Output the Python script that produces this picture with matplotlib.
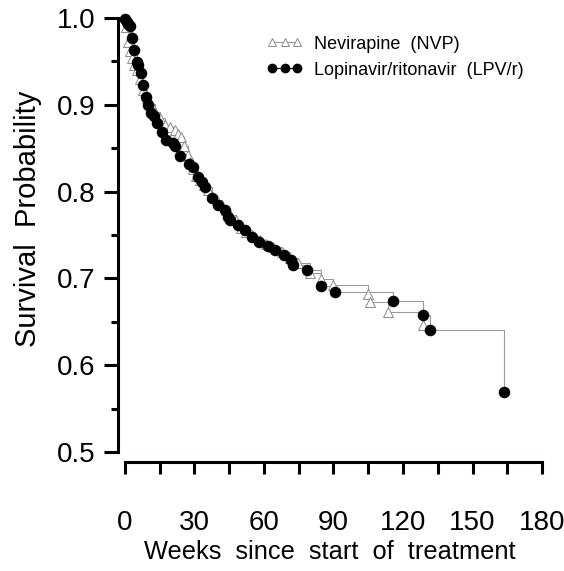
import numpy as np
import matplotlib
matplotlib.use("Agg")
import matplotlib.pyplot as plt
from matplotlib.ticker import MultipleLocator, FormatStrFormatter

plt.rcParams['font.family'] = ['Liberation Sans', 'DejaVu Sans']

# Kaplan-Meier steps (weeks, survival)
nvp_weeks = [0.4, 1.3, 2.2, 3.0, 3.9, 5.2, 6.5, 7.8, 9.5, 11.2, 13.0, 15.1, 17.3,
             19.4, 21.6, 22.9, 24.2, 25.5, 27.2, 28.1, 29.3, 30.6, 32.4, 34.1,
             35.8, 37.5, 39.7, 41.9, 43.6, 45.3, 47.9, 50.1, 52.2, 55.2, 58.3,
             60.9, 63.9, 67.8, 71.2, 74.6, 79.8, 84.6, 89.7, 104.9, 105.7,
             113.5, 128.6]
nvp_surv = [0.990, 0.972, 0.962, 0.954, 0.946, 0.940, 0.930, 0.917, 0.908, 0.901,
            0.892, 0.885, 0.877, 0.874, 0.871, 0.866, 0.863, 0.853, 0.842, 0.834,
            0.826, 0.818, 0.813, 0.808, 0.802, 0.795, 0.790, 0.785, 0.779, 0.773,
            0.767, 0.758, 0.753, 0.749, 0.744, 0.740, 0.736, 0.730, 0.724, 0.718,
            0.706, 0.699, 0.692, 0.682, 0.673, 0.661, 0.646]

lpv_weeks = [0.0, 0.9, 1.3, 2.2, 3.0, 3.9, 5.2, 5.6, 6.9, 7.8, 9.1, 9.9, 11.2,
             12.5, 13.8, 16.0, 17.7, 20.7, 21.6, 23.7, 27.6, 29.3, 31.5, 33.2,
             34.5, 37.5, 40.0, 43.2, 44.5, 45.3, 48.8, 51.8, 54.8, 57.8, 61.7,
             64.7, 68.6, 71.6, 72.5, 78.5, 84.7, 90.6, 115.7, 128.6, 131.6, 163.6]
lpv_surv = [0.999, 0.995, 0.993, 0.991, 0.977, 0.963, 0.949, 0.946, 0.937, 0.923,
            0.909, 0.900, 0.891, 0.887, 0.879, 0.869, 0.859, 0.856, 0.853, 0.841,
            0.832, 0.828, 0.817, 0.811, 0.805, 0.793, 0.785, 0.779, 0.771, 0.767,
            0.762, 0.756, 0.748, 0.742, 0.737, 0.733, 0.727, 0.721, 0.715, 0.710,
            0.691, 0.684, 0.674, 0.658, 0.640, 0.569]

labels = ['Nevirapine  (NVP)', 'Lopinavir/ritonavir  (LPV/r)']

fig = plt.figure(figsize=(5.64, 5.71), dpi=100)
ax = fig.add_axes([0.2216, 0.2084, 0.7394, 0.7601])

lc = '#9a9a9a'
ax.axhline(0.5, color=lc, lw=0.8)

ax.step([0] + nvp_weeks, [1.0] + nvp_surv, where='post', color=lc, lw=0.8, zorder=2)
ax.step([0] + lpv_weeks, [1.0] + lpv_surv, where='post', color=lc, lw=0.8, zorder=2)

ax.plot(nvp_weeks, nvp_surv, ls='none', marker='^', ms=7, mfc='white',
        mec='#8a8a8a', mew=0.7, zorder=3, clip_on=False)
ax.plot(lpv_weeks, lpv_surv, ls='none', marker='o', ms=7.3, color='black',
        zorder=4, clip_on=False)

# legend handles
h1, = ax.plot([], [], color=lc, lw=0.8, marker='^', ms=5.5, mfc='white',
              mec='#8a8a8a', mew=0.7)
h2, = ax.plot([], [], color='black', lw=0.8, marker='o', ms=6)
fig.legend([h1, h2], labels, loc='upper left', bbox_to_anchor=(0.46, 0.95),
           numpoints=3, frameon=False, fontsize=13, handlelength=2.0,
           handletextpad=0.6, labelspacing=0.5, borderaxespad=0)

ax.set_xlim(0, 180)
ax.set_ylim(0.5, 1.0)

for s in ['top', 'right']:
    ax.spines[s].set_visible(False)
ax.spines['left'].set_position(('outward', 5))
ax.spines['bottom'].set_position(('outward', 7))
ax.spines['left'].set_linewidth(2.2)
ax.spines['bottom'].set_linewidth(2.2)

ax.xaxis.set_major_locator(MultipleLocator(30))
ax.xaxis.set_minor_locator(MultipleLocator(15))
ax.yaxis.set_major_locator(MultipleLocator(0.1))
ax.yaxis.set_minor_locator(MultipleLocator(0.05))
ax.yaxis.set_major_formatter(FormatStrFormatter('%.1f'))

ax.tick_params(axis='x', which='both', length=8.5, width=2.2, labelsize=20, pad=26)
ax.tick_params(axis='y', which='major', length=10, width=2.2, labelsize=20, pad=6)
ax.tick_params(axis='y', which='minor', length=5, width=2.2)

fig.text(0.585, 0.033, 'Weeks  since  start  of  treatment', ha='center', va='center',
         fontsize=18.3)
fig.text(0.05, 0.616, 'Survival  Probability', ha='center', va='center',
         rotation=90, fontsize=21)

fig.savefig('out.png', dpi=100)
